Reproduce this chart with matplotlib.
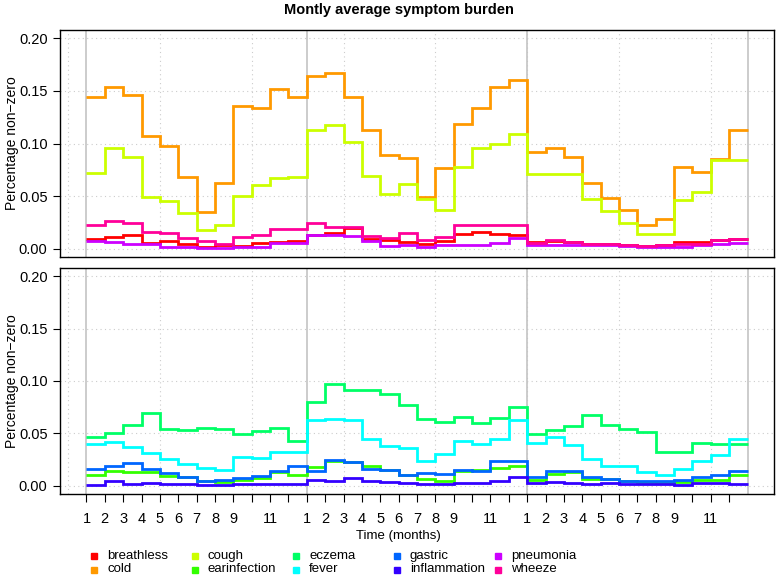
import numpy as np
import matplotlib
matplotlib.use("Agg")
import matplotlib.pyplot as plt
from matplotlib.lines import Line2D

plt.rcParams['font.family'] = ['Liberation Sans', 'DejaVu Sans']

# monthly values, 36 months (3 years)
breathless = [0.0089, 0.011, 0.0127, 0.0052, 0.0071, 0.004, 0.0018, 0.003, 0.0022, 0.0054, 0.0064, 0.0072,
              0.0134, 0.0145, 0.020, 0.0096, 0.008, 0.0063, 0.0048, 0.007, 0.0143, 0.0159, 0.0143, 0.0134,
              0.006, 0.0075, 0.0063, 0.0048, 0.004, 0.003, 0.0025, 0.003, 0.0063, 0.006, 0.008, 0.0096]
cold = [0.144, 0.1535, 0.1465, 0.1067, 0.0978, 0.0685, 0.035, 0.0627, 0.1354, 0.1338, 0.152, 0.144,
        0.1646, 0.167, 0.144, 0.113, 0.089, 0.0866, 0.049, 0.0764, 0.119, 0.1338, 0.154, 0.16,
        0.0917, 0.0959, 0.0876, 0.0627, 0.048, 0.037, 0.0226, 0.0277, 0.0777, 0.0732, 0.0857, 0.113]
cough = [0.072, 0.0955, 0.0876, 0.049, 0.045, 0.0334, 0.0175, 0.0223, 0.05, 0.0605, 0.0669, 0.068,
         0.113, 0.118, 0.1016, 0.069, 0.052, 0.0615, 0.0468, 0.037, 0.078, 0.0959, 0.100, 0.109,
         0.0707, 0.0707, 0.0707, 0.0468, 0.036, 0.0245, 0.0143, 0.0143, 0.046, 0.054, 0.084, 0.0844]
earinfection = [0.0106, 0.0138, 0.0128, 0.013, 0.0096, 0.0083, 0.0042, 0.0032, 0.0058, 0.0074, 0.0128, 0.0106,
                0.0176, 0.0234, 0.0228, 0.0192, 0.015, 0.0106, 0.0064, 0.0042, 0.0144, 0.0147, 0.0167, 0.0186,
                0.0058, 0.0115, 0.0128, 0.0067, 0.0067, 0.0048, 0.0032, 0.0026, 0.0032, 0.005, 0.0058, 0.0106]
eczema = [0.0464, 0.0506, 0.0583, 0.069, 0.0538, 0.0529, 0.0548, 0.0538, 0.049, 0.0522, 0.0555, 0.0426,
          0.0796, 0.0975, 0.091, 0.091, 0.088, 0.077, 0.0635, 0.0605, 0.0655, 0.0602, 0.0645, 0.0755,
          0.049, 0.0527, 0.0568, 0.0675, 0.058, 0.054, 0.051, 0.0325, 0.0325, 0.0412, 0.0397, 0.0397]
fever = [0.040, 0.042, 0.0372, 0.0308, 0.0256, 0.0208, 0.017, 0.0154, 0.0276, 0.0266, 0.032, 0.032,
         0.0628, 0.064, 0.0625, 0.045, 0.0378, 0.0362, 0.024, 0.0298, 0.0426, 0.040, 0.0442, 0.0625,
         0.041, 0.0464, 0.0388, 0.025, 0.0186, 0.0186, 0.0128, 0.0106, 0.0163, 0.0234, 0.0288, 0.045]
gastric = [0.0163, 0.0192, 0.0212, 0.016, 0.0122, 0.0083, 0.0048, 0.0058, 0.0071, 0.009, 0.0138, 0.0186,
           0.0144, 0.0243, 0.0228, 0.016, 0.0147, 0.0106, 0.0122, 0.0112, 0.015, 0.0138, 0.024, 0.024,
           0.0083, 0.0144, 0.0144, 0.0083, 0.0067, 0.0048, 0.0042, 0.0045, 0.0058, 0.0083, 0.0106, 0.0138]
inflammation = [0.001, 0.0048, 0.0019, 0.0026, 0.002, 0.0016, 0.001, 0.001, 0.0013, 0.0016, 0.002, 0.0016,
                0.0058, 0.0048, 0.0074, 0.0042, 0.0032, 0.0026, 0.002, 0.002, 0.0026, 0.0026, 0.0042, 0.0083,
                0.0026, 0.0032, 0.0026, 0.002, 0.0026, 0.0016, 0.0016, 0.0016, 0.001, 0.0026, 0.0026, 0.002]
pneumonia = [0.0073, 0.0064, 0.0048, 0.0045, 0.0016, 0.0016, 0.0006, 0.0008, 0.0016, 0.0016, 0.0054, 0.0054,
             0.0134, 0.013, 0.012, 0.007, 0.002, 0.0038, 0.0015, 0.0038, 0.003, 0.0038, 0.0057, 0.0105,
             0.0038, 0.0038, 0.003, 0.003, 0.003, 0.0025, 0.0015, 0.0015, 0.0015, 0.003, 0.0048, 0.0057]
wheeze = [0.0223, 0.026, 0.0239, 0.016, 0.015, 0.0105, 0.0075, 0.0041, 0.011, 0.0134, 0.019, 0.0185,
          0.0242, 0.0205, 0.0205, 0.012, 0.0105, 0.0153, 0.0079, 0.011, 0.0223, 0.0229, 0.0229, 0.0223,
          0.0052, 0.008, 0.0063, 0.0048, 0.004, 0.003, 0.0025, 0.003, 0.0048, 0.0048, 0.0086, 0.0096]

names = ["breathless", "cold", "cough", "earinfection", "eczema",
         "fever", "gastric", "inflammation", "pneumonia", "wheeze"]
# R rainbow(10)
colors = ["#FF0000", "#FF9900", "#CCFF00", "#33FF00", "#00FF66",
          "#00FFFF", "#0066FF", "#3300FF", "#CC00FF", "#FF0099"]
series = dict(zip(names, [breathless, cold, cough, earinfection, eczema,
                          fever, gastric, inflammation, pneumonia, wheeze]))
top_panel = ["breathless", "cold", "cough", "pneumonia", "wheeze"]
bottom_panel = ["earinfection", "eczema", "fever", "gastric", "inflammation"]

month_labels = ["1", "2", "3", "4", "5", "6", "7", "8", "9", "", "11", ""] * 3
edges = np.arange(1, 38)
W, H = 777, 576

fig = plt.figure(figsize=(W / 100, H / 100), dpi=100)
ax1 = fig.add_axes([60 / W, 1 - 257 / H, 714 / W, 227 / H])
ax2 = fig.add_axes([60 / W, 1 - 494 / H, 714 / W, 226 / H])

for ax, panel in [(ax1, top_panel), (ax2, bottom_panel)]:
    ax.set_xlim(-0.44, 38.44)
    ax.set_ylim(-0.008, 0.208)
    for gx in range(0, 40, 5):
        ax.axvline(gx, color="#cccccc", lw=0.8, ls=(0, (1, 3)), zorder=0)
    for gy in np.arange(0, 0.21, 0.05):
        ax.axhline(gy, color="#cccccc", lw=0.8, ls=(0, (1, 3)), zorder=0)
    for yr in [1, 13, 25, 37]:
        ax.axvline(yr, color="#c4c4c4", lw=1.2, zorder=1)
    for n in panel:
        ax.stairs(series[n], edges, baseline=None, color=colors[names.index(n)], lw=2.0, zorder=3)
    ax.set_yticks(np.arange(0, 0.21, 0.05))
    ax.set_yticklabels(["0.00", "0.05", "0.10", "0.15", "0.20"])
    ax.tick_params(axis="y", direction="out", length=5, width=0.8, pad=4, labelsize=10.5)
    ax.set_ylabel("Percentage non\u2212zero", fontsize=10)
    ax.yaxis.set_label_coords(-0.058, 0.5)
    for s in ax.spines.values():
        s.set_linewidth(1.0)

ax1.set_xticks([])
ax2.set_xticks(np.arange(1, 37))
ax2.set_xticklabels(month_labels)
ax2.tick_params(axis="x", direction="out", length=6, width=0.8, pad=7, labelsize=10.5)

fig.text(398 / W, 1 - 536 / H, "Time (months)", ha="center", va="center", fontsize=9.5)
fig.text(399 / W, 1 - 10 / H, "Montly average symptom burden", ha="center", va="center",
         fontsize=10.5, fontweight="bold")

# legend: 5 equal-width columns, 2 rows (filled column by column, as in R)
for i, (n, c) in enumerate(zip(names, colors)):
    col, row = divmod(i, 2)
    lx = 94 + 101 * col
    ly = 556 + 13.5 * row
    fig.add_artist(Line2D([lx / W], [1 - ly / H], marker="s", ls="none", color=c,
                          markersize=4.5, transform=fig.transFigure))
    fig.text((lx + 13) / W, 1 - ly / H, n, ha="left", va="center", fontsize=9.5)

fig.savefig("out.png", dpi=100)
